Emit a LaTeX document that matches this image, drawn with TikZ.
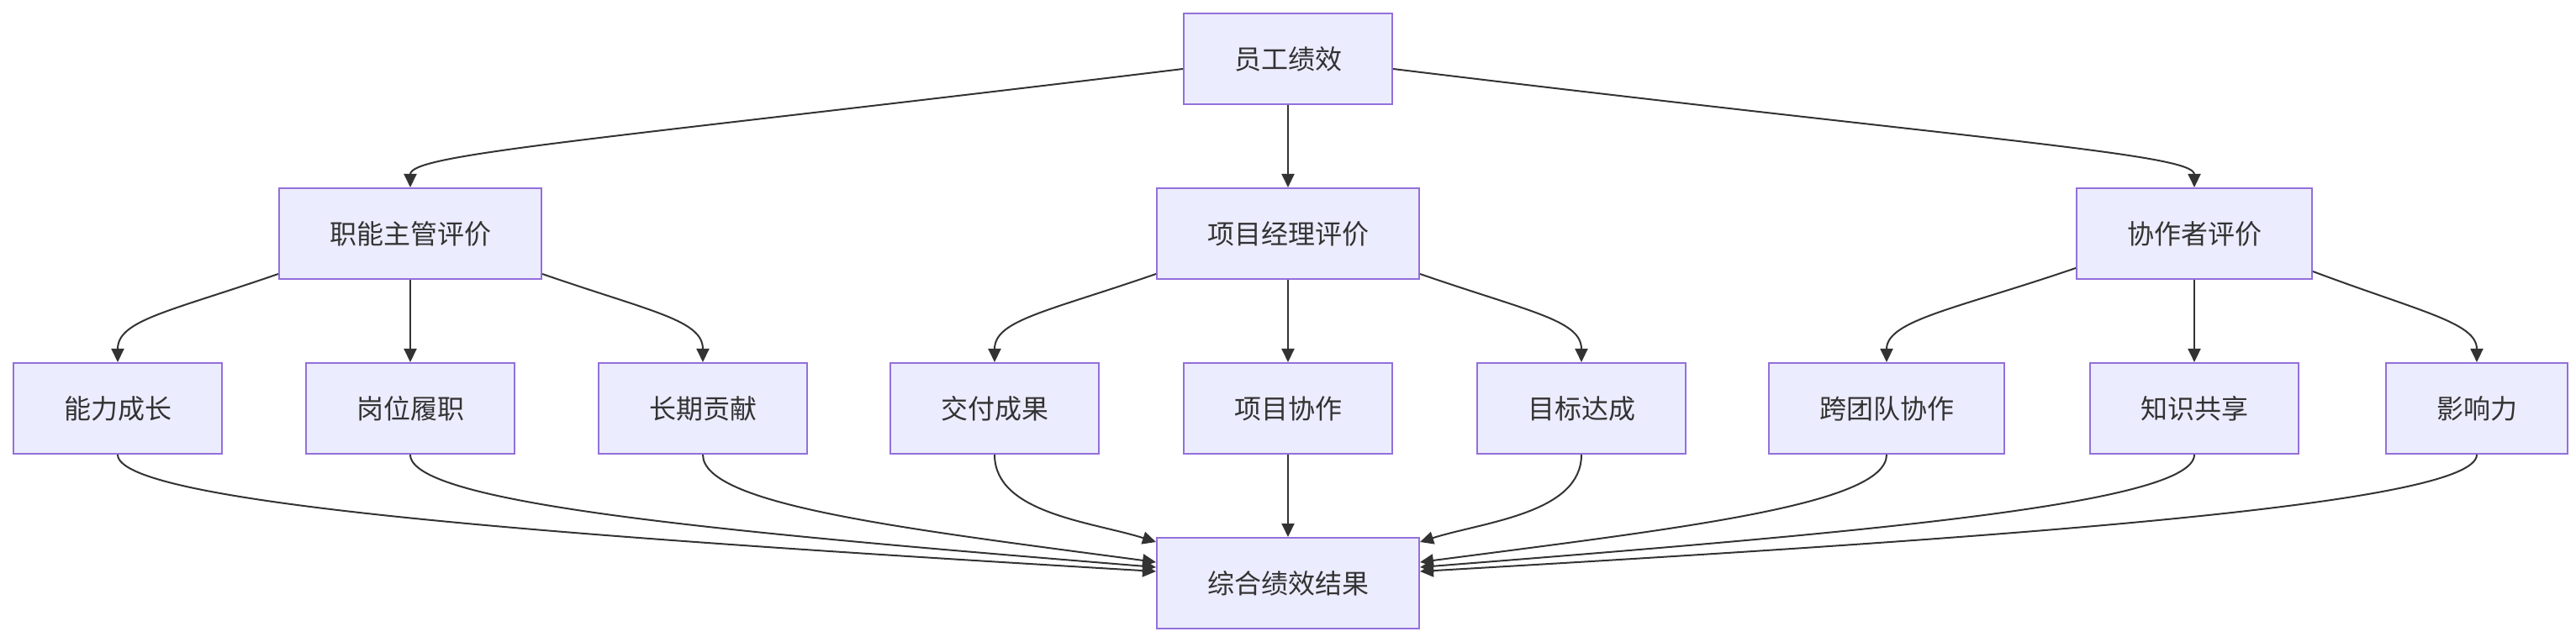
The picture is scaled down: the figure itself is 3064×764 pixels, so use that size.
\documentclass[tikz,border=0pt]{standalone}
\usepackage{fontspec}
\setmainfont{Noto Sans CJK SC}
\usetikzlibrary{arrows.meta,calc}
\definecolor{boxfill}{HTML}{ECECFF}
\definecolor{boxline}{HTML}{9370DB}
\definecolor{ink}{HTML}{333333}
\tikzset{
  box/.style={rectangle, fill=boxfill, draw=boxline, line width=1pt,
    minimum height=54pt, inner xsep=30pt, inner ysep=0pt, text=ink,
    font=\fontsize{16pt}{19pt}\selectfont},
  edge/.style={draw=ink, line width=1pt, -{Triangle[length=8pt,width=7.5pt]}}
}
\begin{document}
\begin{tikzpicture}[x=0.5pt,y=-0.5pt]
\useasboundingbox (0,0) rectangle (3064,764);
% nodes
\node[box] (top) at (1532,70) {员工绩效};
\node[box] (fm) at (488,278) {职能主管评价};
\node[box] (pm) at (1532,278) {项目经理评价};
\node[box] (co) at (2610,278) {协作者评价};
\node[box] (a1) at (140,486) {能力成长};
\node[box] (a2) at (488,486) {岗位履职};
\node[box] (a3) at (836,486) {长期贡献};
\node[box] (b1) at (1183,486) {交付成果};
\node[box] (b2) at (1532,486) {项目协作};
\node[box] (b3) at (1881,486) {目标达成};
\node[box] (c1) at (2244,486) {跨团队协作};
\node[box] (c2) at (2610,486) {知识共享};
\node[box] (c3) at (2946,486) {影响力};
\node[box] (res) at (1532,694) {综合绩效结果};
% level 1 -> 2
\draw[edge] ($(top.west)+(0,12)$) .. controls +(-700,85) and +(0,-40) .. (fm.north);
\draw[edge] (top.south) -- (pm.north);
\draw[edge] ($(top.east)+(0,12)$) .. controls +(700,85) and +(0,-40) .. (co.north);
% level 2 -> 3
\draw[edge] ($(fm.south west)+(0,-7)$) .. controls +(-130,45) and +(0,-50) .. (a1.north);
\draw[edge] (fm.south) -- (a2.north);
\draw[edge] ($(fm.south east)+(0,-7)$) .. controls +(130,45) and +(0,-50) .. (a3.north);
\draw[edge] ($(pm.south west)+(0,-7)$) .. controls +(-130,45) and +(0,-50) .. (b1.north);
\draw[edge] (pm.south) -- (b2.north);
\draw[edge] ($(pm.south east)+(0,-7)$) .. controls +(130,45) and +(0,-50) .. (b3.north);
\draw[edge] ($(co.south west)+(0,-14)$) .. controls +(-140,48) and +(0,-50) .. (c1.north);
\draw[edge] (co.south) -- (c2.north);
\draw[edge] ($(co.south east)+(0,-10)$) .. controls +(128,48) and +(0,-47) .. (c3.north);
% level 3 -> result
\draw[edge] (a1.south) .. controls +(0,60) and +(-676,-40) .. ($(res.west)+(0,-14)$);
\draw[edge] (a2.south) .. controls +(0,60) and +(-490,-40) .. ($(res.west)+(0,-19)$);
\draw[edge] (a3.south) .. controls +(0,60) and +(-300,-40) .. ($(res.west)+(0,-25)$);
\draw[edge] (b1.south) .. controls +(0,70) and +(-76,-24) .. ($(res.west)+(0,-49)$);
\draw[edge] (b2.south) -- (res.north);
\draw[edge] (b3.south) .. controls +(0,70) and +(76,-24) .. ($(res.east)+(0,-49)$);
\draw[edge] (c1.south) .. controls +(0,60) and +(306,-40) .. ($(res.east)+(0,-25)$);
\draw[edge] (c2.south) .. controls +(0,60) and +(507,-40) .. ($(res.east)+(0,-19)$);
\draw[edge] (c3.south) .. controls +(0,60) and +(692,-40) .. ($(res.east)+(0,-14)$);
\end{tikzpicture}
\end{document}
